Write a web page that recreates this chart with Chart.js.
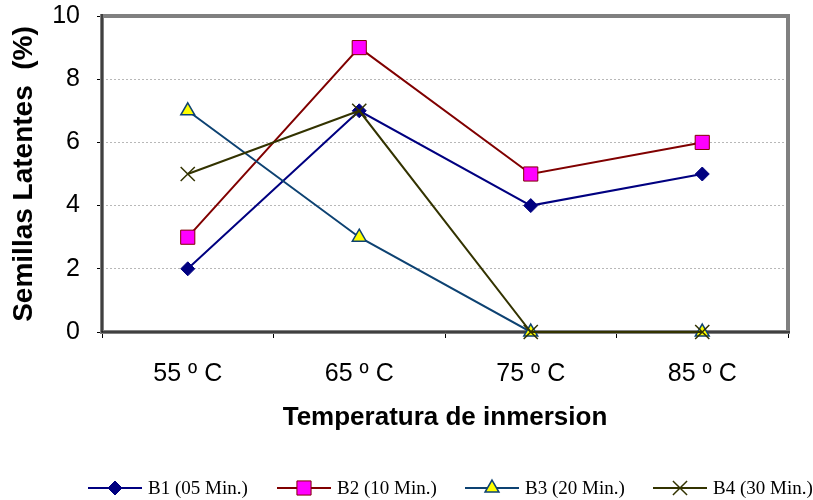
<!DOCTYPE html>
<html>
<head>
<meta charset="utf-8">
<script src="https://cdn.jsdelivr.net/npm/chart.js@4/dist/chart.umd.min.js"></script>
<style>
  html, body { margin: 0; padding: 0; background: #fff; }
  canvas { display: block; }
</style>
</head>
<body>
<canvas id="c" width="813" height="500"></canvas>
<script>
const categories = ['55 º C', '65 º C', '75 º C', '85 º C'];
const seriesNames = ['B1 (05 Min.)', 'B2 (10 Min.)', 'B3 (20 Min.)', 'B4 (30 Min.)'];
const b1 = [2, 7, 4, 5];
const b2 = [3, 9, 5, 6];
const b3 = [7, 3, 0, 0];
const b4 = [5, 7, 0, 0];
const yTicks = [0, 2, 4, 6, 8, 10];
const yTitle = 'Semillas Latentes  (%)';
const xTitle = 'Temperatura de inmersion';

const styles = [
  { line: '#000080', fill: '#000080', stroke: '#000080', shape: 'rectRot', r: 7, bw: 1 },
  { line: '#800000', fill: '#FF00FF', stroke: '#800000', shape: 'rect', r: 10, bw: 1 },
  { line: '#0d4272', fill: '#FFFF00', stroke: '#0d4272', shape: 'triangle', r: 8, bw: 1.5 },
  { line: '#333300', fill: 'rgba(0,0,0,0)', stroke: '#333300', shape: 'crossRot', r: 10, bw: 1.5 }
];
const values = [b1, b2, b3, b4];

const datasets = values.map((v, i) => ({
  label: seriesNames[i],
  data: v,
  borderColor: styles[i].line,
  borderWidth: 2,
  pointStyle: styles[i].shape,
  pointRadius: styles[i].r,
  pointHoverRadius: styles[i].r,
  pointBackgroundColor: styles[i].fill,
  pointBorderColor: styles[i].stroke,
  pointBorderWidth: styles[i].bw,
  tension: 0,
  fill: false,
  clip: false,
  order: 3 - i
}));

function drawMarker(ctx, st, x, y) {
  const r = st.r;
  ctx.save();
  ctx.beginPath();
  if (st.shape === 'rectRot') {
    ctx.moveTo(x - r, y); ctx.lineTo(x, y - r); ctx.lineTo(x + r, y); ctx.lineTo(x, y + r); ctx.closePath();
  } else if (st.shape === 'rect') {
    const s = r * Math.SQRT1_2;
    ctx.rect(x - s, y - s, 2 * s, 2 * s);
  } else if (st.shape === 'triangle') {
    let a = 0;
    ctx.moveTo(x + Math.sin(a) * r, y - Math.cos(a) * r);
    a += 2 * Math.PI / 3;
    ctx.lineTo(x + Math.sin(a) * r, y - Math.cos(a) * r);
    a += 2 * Math.PI / 3;
    ctx.lineTo(x + Math.sin(a) * r, y - Math.cos(a) * r);
    ctx.closePath();
  } else if (st.shape === 'crossRot') {
    const s = r * Math.SQRT1_2;
    ctx.moveTo(x - s, y - s); ctx.lineTo(x + s, y + s);
    ctx.moveTo(x + s, y - s); ctx.lineTo(x - s, y + s);
  }
  if (st.shape !== 'crossRot') { ctx.fillStyle = st.fill; ctx.fill(); }
  ctx.strokeStyle = st.stroke; ctx.lineWidth = st.bw; ctx.stroke();
  ctx.restore();
}

const frame = {
  id: 'frame',
  beforeDatasetsDraw(chart) {
    const { ctx, chartArea: a } = chart;
    ctx.save();
    ctx.strokeStyle = '#808080';
    ctx.lineWidth = 4;
    ctx.strokeRect(a.left, a.top, a.right - a.left, a.bottom - a.top);
    ctx.strokeStyle = '#000000';
    ctx.lineWidth = 1;
    ctx.beginPath();
    ctx.moveTo(a.left, a.top - 2); ctx.lineTo(a.left, a.bottom + 0.5);
    ctx.moveTo(a.left - 0.5, a.bottom); ctx.lineTo(a.right + 2, a.bottom);
    ctx.stroke();
    ctx.restore();
  }
};

const legendStarts = [88, 277, 465, 653];
const bottomLegend = {
  id: 'bottomLegend',
  afterDraw(chart) {
    const ctx = chart.ctx;
    const y = 488;
    ctx.save();
    ctx.font = '19px "Liberation Serif", "Times New Roman", serif';
    ctx.textBaseline = 'middle';
    ctx.textAlign = 'left';
    seriesNames.forEach((name, i) => {
      const x0 = legendStarts[i];
      const st = styles[i];
      ctx.strokeStyle = st.line; ctx.lineWidth = 2;
      ctx.beginPath(); ctx.moveTo(x0, y); ctx.lineTo(x0 + 54, y); ctx.stroke();
      drawMarker(ctx, st, x0 + 27, y);
      ctx.fillStyle = '#000';
      ctx.fillText(name, x0 + 60, y + 1);
    });
    ctx.restore();
  }
};

new Chart(document.getElementById('c'), {
  type: 'line',
  data: { labels: categories, datasets },
  options: {
    responsive: false,
    animation: false,
    events: [],
    layout: { padding: { top: 16, right: 25, bottom: 58, left: 0 } },
    plugins: { legend: { display: false }, tooltip: { enabled: false } },
    scales: {
      x: {
        offset: true,
        afterFit(s) { s.height = 110; s.paddingLeft = 0; s.paddingRight = 0; },
        grid: { display: true, drawOnChartArea: false, drawTicks: true, tickLength: 6, tickColor: '#000', tickWidth: 1, offset: true },
        border: { display: false },
        ticks: { color: '#000', font: { family: '"Liberation Sans", Arial, sans-serif', size: 25 }, padding: 21, maxRotation: 0 },
        title: { display: true, text: xTitle, color: '#000', font: { family: '"Liberation Sans", Arial, sans-serif', size: 26, weight: 'bold' }, padding: { top: 0, bottom: 9 } }
      },
      y: {
        min: 0, max: 10,
        afterFit(s) { s.width = 102; s.paddingTop = 0; s.paddingBottom = 0; },
        afterBuildTicks(s) { s.ticks = yTicks.map(v => ({ value: v })); },
        grid: { color: '#b8b8b8', lineWidth: 1, drawTicks: true, tickLength: 5, tickColor: '#000', tickWidth: 1, tickBorderDash: [] },
        border: { display: false, dash: [2, 2] },
        ticks: { color: '#000', font: { family: '"Liberation Sans", Arial, sans-serif', size: 25 }, padding: 17 },
        title: { display: true, text: yTitle, color: '#000', font: { family: '"Liberation Sans", Arial, sans-serif', size: 28, weight: 'bold' }, padding: { top: 7, bottom: 0 } }
      }
    }
  },
  plugins: [frame, bottomLegend]
});
</script>
</body>
</html>
